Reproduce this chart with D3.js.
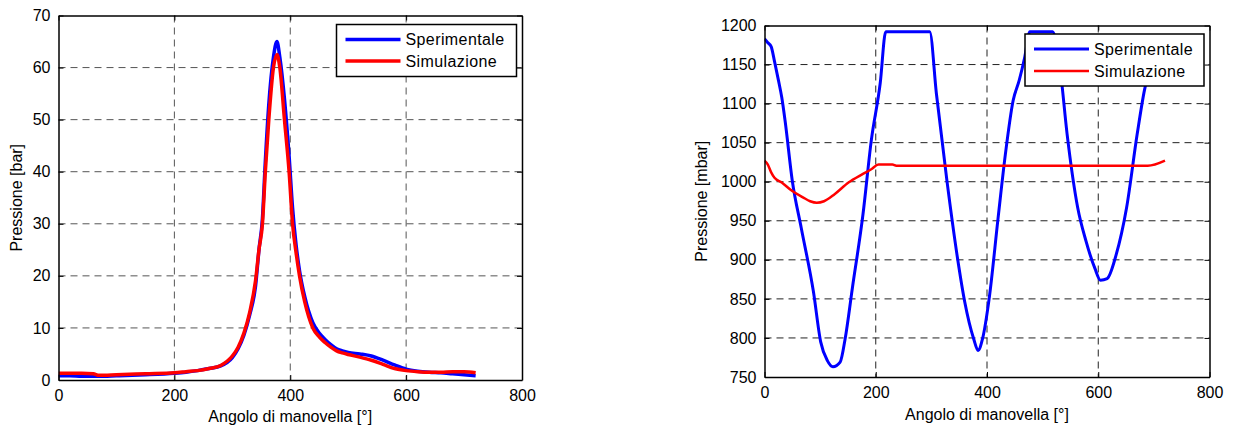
<!DOCTYPE html>
<html>
<head>
<meta charset="utf-8">
<script src="https://cdn.jsdelivr.net/npm/d3@7"></script>
<style>
  body { margin: 0; background: #fff; }
  svg { display: block; font-family: Arial, 'Liberation Sans', sans-serif; }
</style>
</head>
<body>
<svg id="chart" width="1233" height="429"></svg>
<script>
// left panel: cylinder pressure [bar] vs crank angle
const angleBar = [0, 20, 40, 60, 70, 100, 150, 200, 220, 240, 260, 280, 300, 310, 320, 330, 340, 346, 352, 357,
  363, 371, 377, 382, 390, 398, 404, 410, 416, 425, 439, 450, 460, 470, 480, 490, 500, 520, 540, 560,
  580, 600, 620, 640, 660, 680, 700, 720];
const expBar = [0.8, 0.8, 0.7, 0.7, 0.7, 0.8, 1.0, 1.3, 1.5, 1.8, 2.2, 2.7, 4.3, 6.0, 8.6, 12.5, 18, 25, 31, 42,
  53, 62, 65, 62, 54, 43, 33, 26, 21, 16, 11, 9.0, 7.8, 6.8, 6.0, 5.6, 5.3, 5.0, 4.6, 3.8,
  2.9, 2.1, 1.7, 1.5, 1.4, 1.2, 1.0, 0.8];
const simBar = [1.3, 1.3, 1.3, 1.2, 0.9, 1.0, 1.2, 1.4, 1.6, 1.8, 2.2, 2.8, 4.6, 6.3, 9.0, 13.0, 19.0, 25, 30, 40,
  50, 60, 62.5, 60, 50, 40, 30, 24.5, 20, 15, 10, 8.3, 7.2, 6.3, 5.6, 5.2, 4.9, 4.4, 3.8, 3.0,
  2.2, 1.8, 1.6, 1.5, 1.5, 1.6, 1.6, 1.4];

// right panel: intake pressure [mbar]
const angleExpMbar = [0, 6, 12, 18, 25, 31, 37, 50, 66, 88, 101, 113, 123, 136, 145, 158, 177, 192, 208, 218,
  297, 309, 328, 347, 360, 376, 384, 392, 404, 420, 433, 447, 458, 468, 477, 518, 531, 544, 563, 578,
  594, 604, 616, 632, 651, 670, 683, 700, 720];
const expMbar = [1183, 1178, 1173, 1154, 1130, 1108, 1078, 1001, 941, 859, 795, 771, 763, 769, 799, 864, 958, 1053, 1126, 1192,
  1192, 1113, 1001, 902, 846, 799, 784, 799, 851, 954, 1035, 1104, 1130, 1160, 1192, 1192, 1147, 1061, 967, 924,
  889, 874, 876, 906, 967, 1061, 1117, 1160, 1183];
const angleSimMbar = [0, 6, 12, 18, 31, 50, 69, 82, 94, 107, 126, 151, 177, 192, 205, 230, 237, 689, 720];
const simMbar = [1027, 1022, 1012, 1005, 999, 988, 980, 975, 973, 975, 984, 999, 1010, 1016, 1022, 1022, 1020.5, 1020.5, 1027];

const xTicks = [0, 200, 400, 600, 800];
const barTicks = [0, 10, 20, 30, 40, 50, 60, 70];
const mbarTicks = [750, 800, 850, 900, 950, 1000, 1050, 1100, 1150, 1200];
const seriesNames = ["Sperimentale", "Simulazione"];
const seriesColors = ["#0000ff", "#ff0000"];

const svg = d3.select("#chart");

function drawPanel(p) {
  const x = d3.scaleLinear().domain([0, 800]).range([p.left, p.right]);
  const y = d3.scaleLinear().domain(p.yDomain).range([p.bottom, p.top]);
  const g = svg.append("g");

  // dashed grid
  g.selectAll(".gx").data(xTicks.slice(1, -1)).enter().append("line")
    .attr("x1", d => x(d)).attr("x2", d => x(d))
    .attr("y1", p.top).attr("y2", p.bottom)
    .attr("stroke", p.gridColor).attr("stroke-dasharray", "7,5");
  g.selectAll(".gy").data(p.yTicks.slice(1, -1)).enter().append("line")
    .attr("y1", d => y(d)).attr("y2", d => y(d))
    .attr("x1", p.left).attr("x2", p.right)
    .attr("stroke", p.gridColor).attr("stroke-dasharray", "7,5");

  // curves
  const clipId = "clip" + p.id;
  svg.append("clipPath").attr("id", clipId).append("rect")
    .attr("x", p.left).attr("y", p.top).attr("width", p.right - p.left).attr("height", p.bottom - p.top);
  p.series.forEach((s, i) => {
    const pts = s.xs.map((a, k) => [a, s.ys[k]]);
    g.append("path").datum(pts)
      .attr("clip-path", `url(#${clipId})`)
      .attr("fill", "none").attr("stroke", seriesColors[i])
      .attr("stroke-width", s.width).attr("stroke-linejoin", "round")
      .attr("d", d3.line().curve(d3.curveMonotoneX).x(d => x(d[0])).y(d => y(d[1])));
  });

  // axes (MATLAB style: ticks inside on all four sides)
  const tl = 5;
  const fmt = d3.format("d");
  const bottomAx = g.append("g").attr("transform", `translate(0,${p.bottom})`)
    .call(d3.axisBottom(x).tickValues(xTicks).tickFormat(fmt).tickSize(-tl).tickPadding(10).tickSizeOuter(0));
  const topAx = g.append("g").attr("transform", `translate(0,${p.top})`)
    .call(d3.axisTop(x).tickValues(xTicks).tickSize(-tl).tickFormat("").tickSizeOuter(0));
  const leftAx = g.append("g").attr("transform", `translate(${p.left},0)`)
    .call(d3.axisLeft(y).tickValues(p.yTicks).tickFormat(fmt).tickSize(-tl).tickPadding(8).tickSizeOuter(0));
  const rightAx = g.append("g").attr("transform", `translate(${p.right},0)`)
    .call(d3.axisRight(y).tickValues(p.yTicks).tickSize(-tl).tickFormat("").tickSizeOuter(0));
  [bottomAx, topAx, leftAx, rightAx].forEach(a => {
    a.select(".domain").attr("stroke", "#000").attr("stroke-width", 1.5);
    a.selectAll(".tick line").attr("stroke", "#000");
    a.selectAll("text").attr("fill", "#000").style("font-size", "16px").style("font-family", "Arial, 'Liberation Sans', sans-serif");
  });

  // axis titles
  g.append("text").attr("x", (p.left + p.right) / 2).attr("y", p.xTitleY)
    .attr("text-anchor", "middle").style("font-size", "16px").text("Angolo di manovella [°]");
  g.append("text").attr("transform", `translate(${p.yTitleX},${(p.top + p.bottom) / 2}) rotate(-90)`)
    .attr("text-anchor", "middle").style("font-size", "16px").text(p.yTitle);

  // legend
  const L = p.legend;
  g.append("rect").attr("x", L.x).attr("y", L.y).attr("width", L.w).attr("height", L.h)
    .attr("fill", "#fff").attr("stroke", "#000").attr("stroke-width", 1.5);
  seriesNames.forEach((name, i) => {
    const ly = L.y + L.row0 + i * L.rowGap;
    g.append("line").attr("x1", L.x + 9).attr("x2", L.x + 64).attr("y1", ly).attr("y2", ly)
      .attr("stroke", seriesColors[i]).attr("stroke-width", p.series[i].width);
    g.append("text").attr("x", L.x + 69).attr("y", ly).attr("dy", "0.35em")
      .style("font-size", "16px").attr("letter-spacing", "0.4px").text(name);
  });
}

drawPanel({
  id: "L", left: 58.5, right: 522, top: 15.5, bottom: 380,
  yDomain: [0, 70], yTicks: barTicks, gridColor: "#555",
  yTitle: "Pressione [bar]", yTitleX: 22, xTitleY: 422,
  series: [{xs: angleBar, ys: expBar, width: 3.5}, {xs: angleBar, ys: simBar, width: 3.5}],
  legend: {x: 336.5, y: 24.5, w: 180, h: 52, row0: 15, rowGap: 21.5}
});

drawPanel({
  id: "R", left: 764.5, right: 1209.5, top: 25.5, bottom: 377,
  yDomain: [750, 1200], yTicks: mbarTicks, gridColor: "#222",
  yTitle: "Pressione [mbar]", yTitleX: 707, xTitleY: 420,
  series: [{xs: angleExpMbar, ys: expMbar, width: 3}, {xs: angleSimMbar, ys: simMbar, width: 2.5}],
  legend: {x: 1025, y: 34, w: 179, h: 52, row0: 15, rowGap: 22}
});
</script>
</body>
</html>
